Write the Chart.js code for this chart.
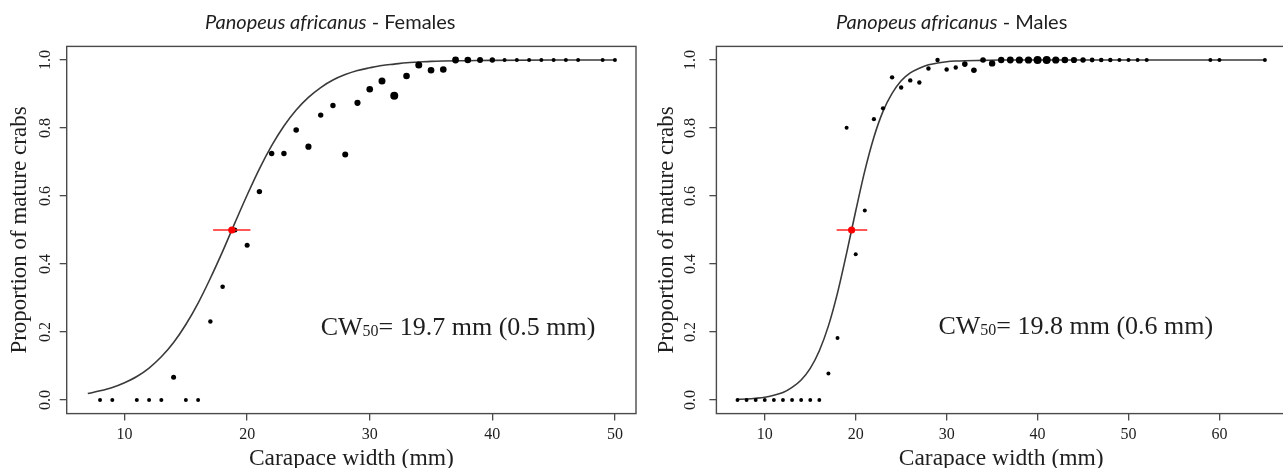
<!DOCTYPE html>
<html><head><meta charset="utf-8">
<script src="https://cdn.jsdelivr.net/npm/chart.js@4.4.1/dist/chart.umd.min.js"></script>
<style>
html,body{margin:0;padding:0;background:#fff;overflow:hidden;width:1283px;height:468px;position:relative;}
.wrap{position:absolute;top:0;height:468px;}
#w1{left:0;width:641px;}
#w2{left:641px;width:649px;}
</style></head><body>
<div class="wrap" id="w1"><canvas id="c1" width="641" height="468"></canvas></div>
<div class="wrap" id="w2"><canvas id="c2" width="649" height="468"></canvas></div>
<script>
// ---------- Females ----------
const femaleCW   = [8,9,11,12,13,14,15,16,17,18,19,20,21,22,23,24,25,26,27,28,29,30,31,32,33,34,35,36,37,38,39,40,41,42,43,44,45,46,47,49,50];
const femaleProp = [0,0,0,0,0,0.067,0,0,0.231,0.333,0.5,0.455,0.613,0.725,0.725,0.794,0.745,0.838,0.866,0.722,0.874,0.914,0.938,0.895,0.953,0.985,0.97,0.972,1,1,1,1,1,1,1,1,1,1,1,1,1];
const femaleN    = [4,4,4,4,4,16,4,4,8,10,16,16,23,23,23,27,41,23,23,36,41,52,64,100,52,64,52,52,58,52,36,23,4,4,4,4,4,4,4,4,4];
const femaleCurveCW = [7,8,9,10,11,12,13,14,15,16,17,18,19,20,21,22,23,24,25,26,27,28,29,30,31,32,33,34,35,36,38,40,45,50];
const femaleCurveP  = [0.019,0.027,0.037,0.051,0.069,0.094,0.127,0.169,0.222,0.285,0.358,0.437,0.521,0.603,0.680,0.748,0.806,0.853,0.890,0.919,0.941,0.957,0.969,0.977,0.984,0.988,0.992,0.994,0.996,0.997,0.998,0.999,1.0,1.0];
const femaleCW50 = 18.75;
const femaleCI   = [17.22, 20.27];
const femaleXTicks = [10,20,30,40,50];
const femaleNote = ['CW','50','= 19.7 mm (0.5 mm)'];

// ---------- Males ----------
const maleCW   = [7,8,9,10,11,12,13,14,15,16,17,18,19,20,21,22,23,24,25,26,27,28,29,30,31,32,33,34,35,36,37,38,39,40,41,42,43,44,45,46,47,48,49,50,51,52,59,60,65];
const maleProp = [0,0,0,0,0,0,0,0,0,0,0.078,0.182,0.801,0.429,0.557,0.826,0.858,0.949,0.919,0.94,0.934,0.975,1,0.972,0.978,0.988,0.97,1,0.99,1,1,1,1,1,1,1,1,1,1,1,1,1,1,1,1,1,1,1,1];
const maleN    = [3,3,3,3,3,3,3,3,3,3,4,4,4,4,4,6,6,8,8,8,8,8,8,8,8,27,27,27,46,46,58,71,71,100,100,71,52,41,23,13,10,8,4,4,4,4,4,4,4];
const maleCurveCW = [7,8,9,10,11,12,13,14,15,16,17,18,19,20,21,22,23,24,25,26,27,28,29,30,31,32,34,36,40,50,60,65];
const maleCurveP  = [0.002,0.003,0.005,0.008,0.014,0.022,0.037,0.059,0.093,0.145,0.218,0.315,0.432,0.556,0.674,0.773,0.849,0.902,0.939,0.962,0.976,0.986,0.991,0.995,0.997,0.998,0.999,1.0,1.0,1.0,1.0,1.0];
const maleCW50 = 19.55;
const maleCI   = [17.9, 21.27];
const maleXTicks = [10,20,30,40,50,60];
const maleNote = ['CW','50','= 19.8 mm (0.6 mm)'];

// ---------- shared ----------
const yTicks = [0,0.2,0.4,0.6,0.8,1.0];
const yTickLabels = ['0.0','0.2','0.4','0.6','0.8','1.0'];
const xTitle = 'Carapace width (mm)';
const yTitle = 'Proportion of mature crabs';
const species = 'Panopeus africanus';

const SERIF = '"Liberation Serif", "Times New Roman", serif';
const TXT = '#1e1e1e';
const AX = '#4a4a4a';

const radiusFromN = n => 1.5 + 0.25 * Math.sqrt(n);

const deco = {
  id: 'deco',
  afterDraw(chart, args, o) {
    const {ctx, chartArea: a, scales: {x, y}} = chart;
    ctx.save();
    ctx.strokeStyle = AX; ctx.lineWidth = 1.4;
    ctx.strokeRect(a.left, a.top, a.right - a.left, a.bottom - a.top);
    // y tick labels, rotated like R's default
    ctx.fillStyle = TXT;
    ctx.font = '16px ' + SERIF;
    ctx.textAlign = 'center'; ctx.textBaseline = 'middle';
    yTicks.forEach((v, i) => {
      const py = y.getPixelForValue(v);
      ctx.save(); ctx.translate(a.left - o.yLabelGap, py); ctx.rotate(-Math.PI / 2);
      ctx.fillText(yTickLabels[i], 0, 0); ctx.restore();
    });
    // annotation
    const nx = x.getPixelForValue(o.noteX), ny = y.getPixelForValue(o.noteY);
    ctx.textAlign = 'left'; ctx.textBaseline = 'alphabetic';
    ctx.font = '26px ' + SERIF;
    ctx.fillText(o.note[0], nx, ny);
    let w = ctx.measureText(o.note[0]).width;
    ctx.font = '16px ' + SERIF;
    ctx.fillText(o.note[1], nx + w, ny + 1);
    w += ctx.measureText(o.note[1]).width;
    ctx.font = '26px ' + SERIF;
    ctx.fillText(o.note[2], nx + w, ny);
    // title
    ctx.font = 'italic 20px Lato, "Open Sans", sans-serif';
    ctx.fillText(species, o.titleX, 29);
    const tw = ctx.measureText(species).width;
    ctx.font = '20px Lato, "Open Sans", sans-serif';
    ctx.fillText(o.titleRest, o.titleX + tw, 29);
    ctx.restore();
  }
};

function makeChart(id, cfg) {
  const pts = cfg.cw.map((v, i) => ({x: v, y: cfg.prop[i]}));
  const curve = cfg.curveCW.map((v, i) => ({x: v, y: cfg.curveP[i]}));
  return new Chart(document.getElementById(id), {
    type: 'scatter',
    data: {
      datasets: [
        {type: 'scatter', data: [{x: cfg.cw50, y: 0.5}], pointRadius: 3.6, pointBackgroundColor: '#ff0000', pointBorderWidth: 0},
        {type: 'line', data: [{x: cfg.ci[0], y: 0.5}, {x: cfg.ci[1], y: 0.5}], borderColor: '#ff2020', borderWidth: 1.5, pointRadius: 0, fill: false},
        {type: 'scatter', data: pts, pointBackgroundColor: '#000', pointBorderWidth: 0,
          pointRadius: c => radiusFromN(cfg.n[c.dataIndex])},
        {type: 'line', data: curve, borderColor: '#3a3a3a', borderWidth: 1.6, pointRadius: 0, fill: false,
          cubicInterpolationMode: 'monotone'}
      ]
    },
    plugins: [deco],
    options: {
      responsive: false, animation: false, devicePixelRatio: 1,
      layout: {padding: {left: 0, right: cfg.padRight, top: 46.4, bottom: 0}},
      plugins: {legend: {display: false}, tooltip: {enabled: false},
        deco: {noteX: cfg.noteX, noteY: cfg.noteY, note: cfg.note, titleX: cfg.titleX, titleRest: cfg.titleRest, yLabelGap: cfg.yLabelGap}},
      scales: {
        x: {type: 'linear', position: 'bottom', min: cfg.xmin, max: cfg.xmax,
          afterBuildTicks: s => { s.ticks = cfg.xTicks.map(v => ({value: v})); },
          afterFit: s => { s.height = 54.4; },
          grid: {drawOnChartArea: false, drawTicks: true, tickLength: 7, color: AX, lineWidth: 1.3},
          border: {display: false},
          ticks: {color: TXT, font: {family: SERIF, size: 16}, padding: 5, maxRotation: 0, callback: v => String(v)},
          title: {display: true, text: xTitle, color: TXT, font: {family: SERIF, size: 23.5, lineHeight: 0.78}, padding: 0}
        },
        y: {type: 'linear', position: 'left', min: -0.04, max: 1.04,
          afterBuildTicks: s => { s.ticks = yTicks.map(v => ({value: v})); },
          afterFit: s => { s.width = cfg.yWidth; },
          grid: {drawOnChartArea: false, drawTicks: true, tickLength: 7, color: AX, lineWidth: 1.3},
          border: {display: false},
          ticks: {display: false},
          title: {display: true, text: yTitle, color: TXT, font: {family: SERIF, size: 23, lineHeight: 1}, padding: {top: cfg.yTitlePad, bottom: 0}}
        }
      }
    }
  });
}

makeChart('c1', {cw: femaleCW, prop: femaleProp, n: femaleN, curveCW: femaleCurveCW, curveP: femaleCurveP,
  cw50: femaleCW50, ci: femaleCI, xTicks: femaleXTicks, xmin: 5.28, xmax: 51.72, padRight: 5, yWidth: 66.7, yTitlePad: 8.5, yLabelGap: 21,
  noteX: 26.0, noteY: 0.19, note: femaleNote, titleX: 205, titleRest: ' - Females'});
makeChart('c2', {cw: maleCW, prop: maleProp, n: maleN, curveCW: maleCurveCW, curveP: maleCurveP,
  cw50: maleCW50, ci: maleCI, xTicks: maleXTicks, xmin: 4.68, xmax: 67.32, padRight: 4, yWidth: 75.4, yTitlePad: 14.5, yLabelGap: 26,
  noteX: 29.1, noteY: 0.194, note: maleNote, titleX: 195, titleRest: ' - Males'});
</script>
</body></html>
